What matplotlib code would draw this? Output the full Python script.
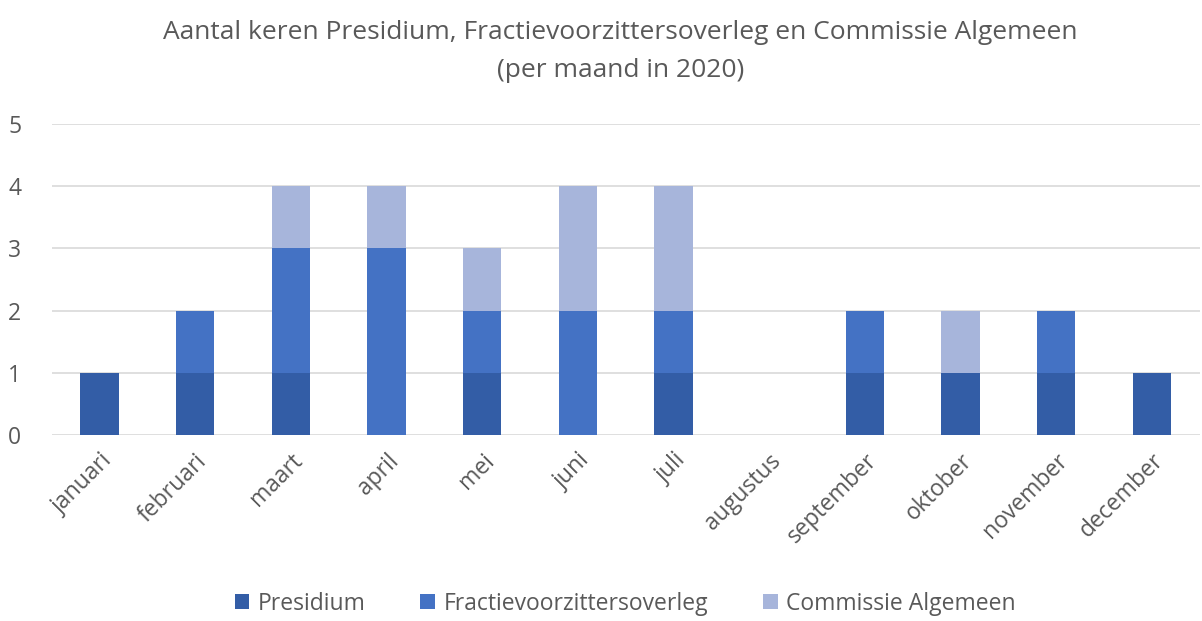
import numpy as np
import matplotlib.pyplot as plt

plt.rcParams['font.family'] = ['Open Sans', 'DejaVu Sans']

maanden = ['januari', 'februari', 'maart', 'april', 'mei', 'juni', 'juli',
           'augustus', 'september', 'oktober', 'november', 'december']
presidium = [1, 1, 1, 0, 1, 0, 1, 0, 1, 1, 1, 1]
fractie = [0, 1, 2, 3, 1, 2, 1, 0, 1, 0, 1, 0]
commissie = [0, 0, 1, 1, 1, 2, 2, 0, 0, 1, 0, 0]

kleuren = ['#335DA6', '#4472C4', '#A7B5DB']
tekst = '#595959'

fig = plt.figure(figsize=(12.02, 6.21), dpi=100)
ax = fig.add_axes([0.043, 0.2995, 0.955, 0.501])

x = np.arange(len(maanden))
p = np.array(presidium)
f = np.array(fractie)
c = np.array(commissie)
w = 0.4
ax.bar(x, p, w, color=kleuren[0], label='Presidium', zorder=3)
ax.bar(x, f, w, bottom=p, color=kleuren[1], label='Fractievoorzittersoverleg', zorder=3)
ax.bar(x, c, w, bottom=p + f, color=kleuren[2], label='Commissie Algemeen', zorder=3)

ax.set_xlim(-0.5, len(maanden) - 0.5)
ax.set_ylim(0, 5)
ax.set_yticks(range(6))
ax.grid(axis='y', color='#D9D9D9', linewidth=1.2, zorder=0)
for s in ax.spines.values():
    s.set_visible(False)
ax.tick_params(axis='both', length=0, labelsize=16.5, labelcolor=tekst)
ax.tick_params(axis='y', pad=22)
ax.set_xticks(x)
ax.set_xticklabels(maanden, rotation=45, ha='right', rotation_mode='anchor')
ax.tick_params(axis='x', pad=10)

fig.text(0.516, 0.948, 'Aantal keren Presidium, Fractievoorzittersoverleg en Commissie Algemeen',
         ha='center', va='center', fontsize=19, color=tekst)
fig.text(0.516, 0.887, '(per maand in 2020)', ha='center', va='center', fontsize=19, color=tekst)

fig.legend(loc='center', bbox_to_anchor=(0.52, 0.028), ncol=3, frameon=False,
           fontsize=16.5, labelcolor=tekst, handlelength=0.65, handleheight=0.65,
           columnspacing=2.4, handletextpad=0.35)

fig.savefig('out.png', dpi=100)
